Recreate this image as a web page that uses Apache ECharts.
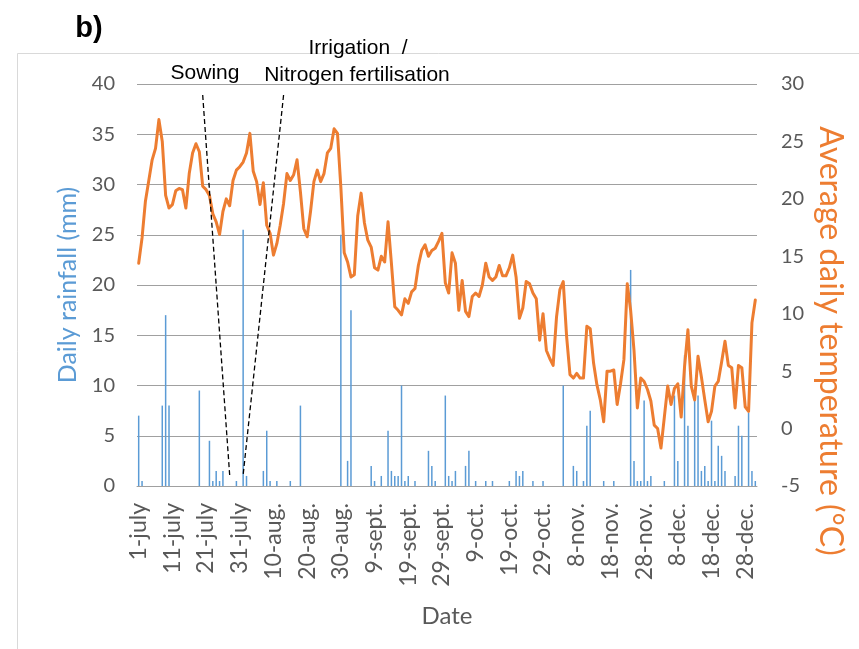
<!DOCTYPE html>
<html>
<head>
<meta charset="utf-8">
<title>Daily rainfall and temperature</title>
<script src="https://cdn.jsdelivr.net/npm/echarts@6/dist/echarts.min.js"></script>
<style>
  html, body { margin: 0; padding: 0; background: #fff; }
  #chart { width: 859px; height: 649px; }
</style>
</head>
<body>
<div id="chart"></div>
<script>
// Months covered by the season (1 July - 31 December)
const monthNames = ['july', 'aug.', 'sept.', 'oct.', 'nov.', 'dec.'];
const monthLengths = [31, 31, 30, 31, 30, 31];

// Daily rainfall (mm), one value per day from 1 July
const rainfall = [
  7.0, 0.5, 0, 0, 0, 0, 0, 8.0, 17.0, 8.0,
  0, 0, 0, 0, 0, 0, 0, 0, 9.5, 0,
  0, 4.5, 0.5, 1.5, 0.5, 1.5, 0, 0, 0, 0.5,
  0, 25.5, 1.0, 0, 0, 0, 0, 1.5, 5.5, 0.5,
  0, 0.5, 0, 0, 0, 0.5, 0, 0, 8.0, 0,
  0, 0, 0, 0, 0, 0, 0, 0, 0, 0,
  25.0, 0, 2.5, 17.5, 0, 0, 0, 0, 0, 2.0,
  0.5, 0, 1.0, 0, 5.5, 1.5, 1.0, 1.0, 10.0, 0.5,
  1.0, 0, 0.5, 0, 0, 0, 3.5, 2.0, 0.5, 0,
  0, 9.0, 1.0, 0.5, 1.5, 0, 0, 2.0, 3.5, 0,
  0.5, 0, 0, 0.5, 0, 0.5, 0, 0, 0, 0,
  0.5, 0, 1.5, 1.0, 1.5, 0, 0, 0.5, 0, 0,
  0.5, 0, 0, 0, 0, 0, 10.0, 0, 0, 2.0,
  1.5, 0, 0.5, 6.0, 7.5, 0, 0, 0, 0.5, 0,
  0, 0.5, 0, 0, 0, 0, 21.5, 2.5, 0.5, 0.5,
  8.5, 0.5, 1.0, 0, 0, 0, 0.5, 0, 0, 9.0,
  2.5, 0, 13.0, 6.0, 0, 8.5, 9.0, 1.5, 2.0, 0.5,
  6.5, 0.5, 4.0, 3.0, 1.5, 0, 0, 1.0, 6.0, 5.0,
  0, 7.3, 1.5, 0.5
];

// Average daily temperature (°C), one value per day from 1 July
const temperature = [
  14.4, 16.6, 19.8, 21.6, 23.4, 24.4, 26.9, 25.0, 20.3, 19.2,
  19.5, 20.7, 20.9, 20.8, 19.2, 22.2, 24.0, 24.8, 24.1, 21.1,
  20.8, 20.3, 18.7, 18.0, 16.9, 18.9, 20.0, 19.4, 21.6, 22.5,
  22.8, 23.2, 24.0, 25.7, 22.4, 21.5, 19.5, 21.4, 17.7, 17.0,
  15.1, 16.1, 17.7, 19.6, 22.2, 21.6, 22.1, 23.4, 20.6, 17.4,
  16.7, 18.9, 21.5, 22.5, 21.5, 22.2, 24.0, 24.4, 26.1, 25.7,
  21.0, 15.3, 14.5, 13.2, 13.4, 18.5, 20.5, 17.9, 16.4, 15.8,
  14.0, 13.8, 15.0, 14.5, 18.0, 14.4, 10.6, 10.3, 9.9, 11.3,
  10.9, 11.9, 12.2, 14.2, 15.5, 16.0, 15.0, 15.5, 15.7, 16.3,
  17.0, 12.7, 11.8, 15.3, 14.4, 10.3, 12.9, 10.2, 9.75, 11.5,
  11.8, 11.5, 12.5, 14.4, 13.2, 12.9, 13.2, 14.2, 13.3, 13.3,
  14.0, 15.1, 13.2, 9.6, 10.5, 12.8, 12.6, 11.8, 11.3, 7.7,
  10.0, 6.8, 6.1, 5.5, 9.7, 12.1, 12.8, 8.0, 4.7, 4.4,
  4.8, 4.4, 4.4, 8.9, 8.7, 5.7, 3.8, 2.5, 0.6, 5.0,
  5.0, 5.1, 2.1, 3.9, 6.0, 12.6, 10.3, 6.8, 1.8, 4.4,
  4.1, 3.4, 2.4, 0.3, 0.0, -1.7, 1.0, 3.7, 2.1, 3.5,
  3.9, 1.0, 5.4, 8.6, 3.7, 2.5, 6.3, 4.5, 2.5, 0.6,
  1.5, 3.7, 4.1, 5.8, 7.6, 5.5, 5.3, 1.8, 5.5, 5.3,
  1.9, 1.5, 9.2, 11.2
];

// Field operations: [day index at top, rainfall at top, day index at bottom, rainfall at bottom]
const sowingLine = [19, 38.9, 27, 1.1];
const irrigationLine = [43, 38.9, 31, 1.1];

// Date labels "d-month" for every day of the season
const dates = [];
monthNames.forEach((m, i) => {
  for (let d = 1; d <= monthLengths[i]; d++) dates.push(d + '-' + m);
});

const axisGrey = '#595959';
const gridGrey = '#a0a0a0';
const tickFont = 'Lato';

const chart = echarts.init(document.getElementById('chart'), null, { renderer: 'canvas' });

chart.setOption({
  animation: false,
  backgroundColor: '#ffffff',
  grid: { left: 137, right: 102, top: 84, bottom: 163, containLabel: false },
  xAxis: {
    type: 'category',
    data: dates,
    boundaryGap: true,
    name: 'Date',
    nameLocation: 'middle',
    nameGap: 118,
    nameTextStyle: { color: axisGrey, fontSize: 24, fontFamily: tickFont },
    axisLine: { show: true, lineStyle: { color: gridGrey, width: 1 } },
    axisTick: { show: false },
    axisLabel: {
      interval: (i) => i % 10 === 0,
      rotate: 90,
      margin: 17,
      color: axisGrey,
      fontSize: 23,
      fontFamily: tickFont
    },
    splitLine: { show: false }
  },
  yAxis: [
    {
      type: 'value',
      min: 0,
      max: 40,
      interval: 5,
      name: 'Daily rainfall (mm)',
      nameLocation: 'middle',
      nameRotate: 90,
      nameGap: 57,
      nameTextStyle: { color: '#5B9BD5', fontSize: 25, fontFamily: tickFont },
      axisLine: { show: false },
      axisTick: { show: false },
      axisLabel: { color: axisGrey, fontSize: 20, fontFamily: tickFont, margin: 22 },
      splitLine: { show: true, lineStyle: { color: gridGrey, width: 1 } }
    },
    {
      type: 'value',
      min: -5,
      max: 30,
      interval: 5,
      position: 'right',
      axisLine: { show: false },
      axisTick: { show: false },
      axisLabel: { color: axisGrey, fontSize: 20, fontFamily: tickFont, margin: 24 },
      splitLine: { show: false }
    }
  ],
  series: [
    {
      name: 'Daily rainfall',
      type: 'bar',
      yAxisIndex: 0,
      data: rainfall,
      barWidth: 1.5,
      itemStyle: { color: '#5B9BD5' },
      silent: true
    },
    {
      name: 'Average daily temperature',
      type: 'line',
      yAxisIndex: 1,
      data: temperature,
      showSymbol: false,
      lineStyle: { color: '#ED7D31', width: 3, join: 'round', cap: 'round' },
      z: 3,
      silent: true
    }
  ]
});

// Annotation lines placed in data coordinates
function px(day, mm) {
  return chart.convertToPixel({ xAxisIndex: 0, yAxisIndex: 0 }, [day, mm]);
}
function dashed(seg) {
  const a = px(seg[0], seg[1]);
  const b = px(seg[2], seg[3]);
  return {
    type: 'line',
    shape: { x1: a[0], y1: a[1], x2: b[0], y2: b[1] },
    style: { stroke: '#000', lineWidth: 1.3, lineDash: [5, 3] },
    z: 10
  };
}

chart.setOption({
  graphic: [
    {
      type: 'rect',
      shape: { x: 17.5, y: 53.5, width: 900, height: 700 },
      style: { fill: 'none', stroke: '#d9d9d9', lineWidth: 1 },
      z: -1
    },
    dashed(sowingLine),
    dashed(irrigationLine),
    {
      // right-hand axis title, reading top to bottom
      type: 'text',
      x: 830, y: 341,
      rotation: -Math.PI / 2,
      style: { text: 'Average daily temperature (°C)', font: '32px Lato', fill: '#ED7D31', align: 'center', verticalAlign: 'middle' },
      z: 10
    },
    {
      type: 'text',
      x: 89, y: 29,
      style: { text: 'b)', font: 'bold 29px "Liberation Sans"', fill: '#000', align: 'center', verticalAlign: 'middle' },
      z: 10
    },
    {
      type: 'text',
      x: 205, y: 73,
      style: { text: 'Sowing', font: '21px "Liberation Sans"', fill: '#000', align: 'center', verticalAlign: 'middle' },
      z: 10
    },
    {
      type: 'text',
      x: 358, y: 48,
      style: { text: 'Irrigation  /', font: '21px "Liberation Sans"', fill: '#000', align: 'center', verticalAlign: 'middle' },
      z: 10
    },
    {
      type: 'text',
      x: 357, y: 75,
      style: { text: 'Nitrogen fertilisation', font: '21px "Liberation Sans"', fill: '#000', align: 'center', verticalAlign: 'middle' },
      z: 10
    }
  ]
});
</script>
</body>
</html>
